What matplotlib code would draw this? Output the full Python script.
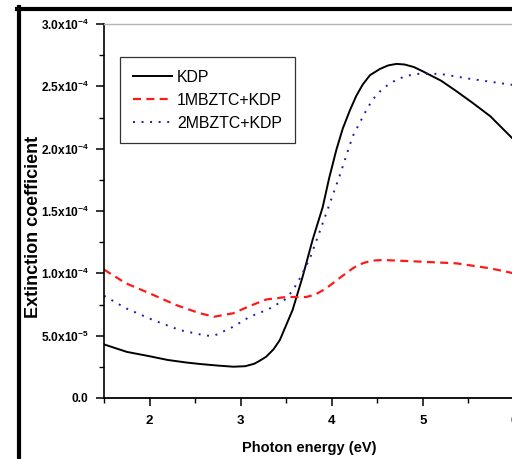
import matplotlib
matplotlib.use("Agg")
import matplotlib.pyplot as plt
from matplotlib.ticker import FuncFormatter, MultipleLocator
from matplotlib.lines import Line2D
import numpy as np

plt.rcParams["font.family"] = ["Liberation Sans", "DejaVu Sans"]
plt.rcParams["mathtext.fontset"] = "custom"
plt.rcParams["mathtext.rm"] = "Liberation Sans:bold"
plt.rcParams["mathtext.it"] = "Liberation Sans:bold"
plt.rcParams["mathtext.bf"] = "Liberation Sans:bold"

# Photon energy (eV) and extinction coefficient for each sample
kdp_energy = [1.50, 1.75, 2.00, 2.20, 2.40, 2.55, 2.75, 2.92, 3.05, 3.15, 3.20,
              3.28, 3.36, 3.43, 3.57, 3.68, 3.79, 3.90, 3.97, 4.05, 4.12, 4.20,
              4.27, 4.34, 4.42, 4.53, 4.62, 4.71, 4.80, 4.90, 5.00, 5.20, 5.37,
              5.55, 5.74, 6.00]
kdp_k = [0.430e-4, 0.370e-4, 0.335e-4, 0.305e-4, 0.285e-4, 0.273e-4, 0.260e-4,
         0.251e-4, 0.255e-4, 0.275e-4, 0.295e-4, 0.331e-4, 0.390e-4, 0.465e-4,
         0.706e-4, 0.973e-4, 1.270e-4, 1.530e-4, 1.760e-4, 1.990e-4, 2.160e-4,
         2.310e-4, 2.425e-4, 2.515e-4, 2.590e-4, 2.640e-4, 2.668e-4, 2.680e-4,
         2.675e-4, 2.655e-4, 2.620e-4, 2.545e-4, 2.460e-4, 2.365e-4, 2.260e-4,
         2.070e-4]

mbztc1_energy = [1.50, 1.74, 2.00, 2.29, 2.55, 2.71, 2.92, 3.10, 3.28, 3.50,
                 3.72, 3.82, 3.94, 4.10, 4.23, 4.30, 4.38, 4.47, 4.56, 5.00,
                 5.37, 5.74, 6.00]
mbztc1_k = [1.030e-4, 0.920e-4, 0.840e-4, 0.746e-4, 0.680e-4, 0.652e-4,
            0.680e-4, 0.738e-4, 0.790e-4, 0.810e-4, 0.810e-4, 0.830e-4,
            0.880e-4, 0.970e-4, 1.040e-4, 1.070e-4, 1.090e-4, 1.103e-4,
            1.107e-4, 1.093e-4, 1.080e-4, 1.040e-4, 1.000e-4]

mbztc2_energy = [1.50, 1.74, 2.04, 2.33, 2.62, 2.71, 2.92, 3.10, 3.30, 3.48,
                 3.57, 3.65, 3.76, 3.90, 4.09, 4.23, 4.38, 4.45, 4.53, 4.63,
                 4.73, 4.83, 4.93, 5.19, 5.52, 6.00]
mbztc2_k = [0.820e-4, 0.720e-4, 0.625e-4, 0.545e-4, 0.500e-4, 0.500e-4,
            0.572e-4, 0.652e-4, 0.710e-4, 0.786e-4, 0.860e-4, 0.960e-4,
            1.120e-4, 1.400e-4, 1.790e-4, 2.100e-4, 2.310e-4, 2.395e-4,
            2.460e-4, 2.520e-4, 2.560e-4, 2.585e-4, 2.600e-4, 2.600e-4,
            2.560e-4, 2.510e-4]

series_labels = ["KDP", "1MBZTC+KDP", "2MBZTC+KDP"]

fig = plt.figure(figsize=(5.12, 4.59), dpi=100)
W, H = 512, 459
ax = fig.add_axes([104 / W, 61 / H, 410 / W, 374 / H])

ax.plot(kdp_energy, kdp_k, color="black", lw=1.4, label=series_labels[0])
ax.plot(mbztc1_energy, mbztc1_k, color="#ff1a1a", lw=1.6,
        dashes=(3.6, 2.4), label=series_labels[1])
ax.plot(mbztc2_energy, mbztc2_k, color="#1c1ca8", lw=1.4,
        dashes=(1.0, 3.4), label=series_labels[2])

ax.set_xlim(1.5, 6.0)
ax.set_ylim(0, 3.0e-4)

ax.xaxis.set_major_locator(MultipleLocator(1))
ax.xaxis.set_minor_locator(MultipleLocator(0.5))
ax.yaxis.set_major_locator(MultipleLocator(5e-5))
ax.yaxis.set_minor_locator(MultipleLocator(2.5e-5))


def sci_fmt(v, pos):
    if abs(v) < 1e-12:
        return "0.0"
    e = int(np.floor(np.log10(abs(v)) + 1e-9))
    m = v / 10 ** e
    return f"{m:.1f}x10$^{{{e}}}$"


ax.yaxis.set_major_formatter(FuncFormatter(sci_fmt))
ax.xaxis.set_major_formatter(FuncFormatter(lambda v, p: f"{v:.0f}"))

ax.tick_params(axis="both", which="major", direction="out", length=6,
               width=1.1)
ax.tick_params(axis="both", which="minor", direction="out", length=3.5,
               width=1.0)
ax.tick_params(axis="y", which="major", labelsize=8.6, pad=5)
ax.tick_params(axis="x", which="major", labelsize=9.5, pad=6)
ax.tick_params(top=False, right=False, which="both")
for lab in ax.get_xticklabels() + ax.get_yticklabels():
    lab.set_fontweight("bold")

ax.spines["left"].set_linewidth(1.2)
ax.spines["bottom"].set_linewidth(1.3)
ax.spines["top"].set_color("#b4b4b4")
ax.spines["top"].set_linewidth(1.0)
ax.spines["right"].set_visible(False)

ax.set_xlabel("Photon energy (eV)", fontsize=10.5, fontweight="bold",
              va="center")
ax.xaxis.set_label_coords(0.5, -(448 - 398) / 374)
ax.set_ylabel("Extinction coefficient", fontsize=13, fontweight="bold",
              va="center")
ax.yaxis.set_label_coords(-(104 - 34) / 410, (398 - 227) / 374)

leg = ax.legend(loc="upper left", bbox_to_anchor=(16 / 410, (398 - 57) / 374),
                borderaxespad=0, fontsize=11.4, handlelength=2.5,
                handletextpad=0.3, labelspacing=0.5, borderpad=0.8,
                fancybox=False, framealpha=1, edgecolor="#333333")
leg.get_frame().set_linewidth(0.9)

# heavy frame along the top and left edges
fig.add_artist(Line2D([17 / W, 1.0], [1 - 9 / H, 1 - 9 / H],
                      transform=fig.transFigure, color="black", lw=3.0))
fig.add_artist(Line2D([19 / W, 19 / W], [0.0, 1 - 7 / H],
                      transform=fig.transFigure, color="black", lw=3.0))

fig.savefig("out.png", dpi=100)
